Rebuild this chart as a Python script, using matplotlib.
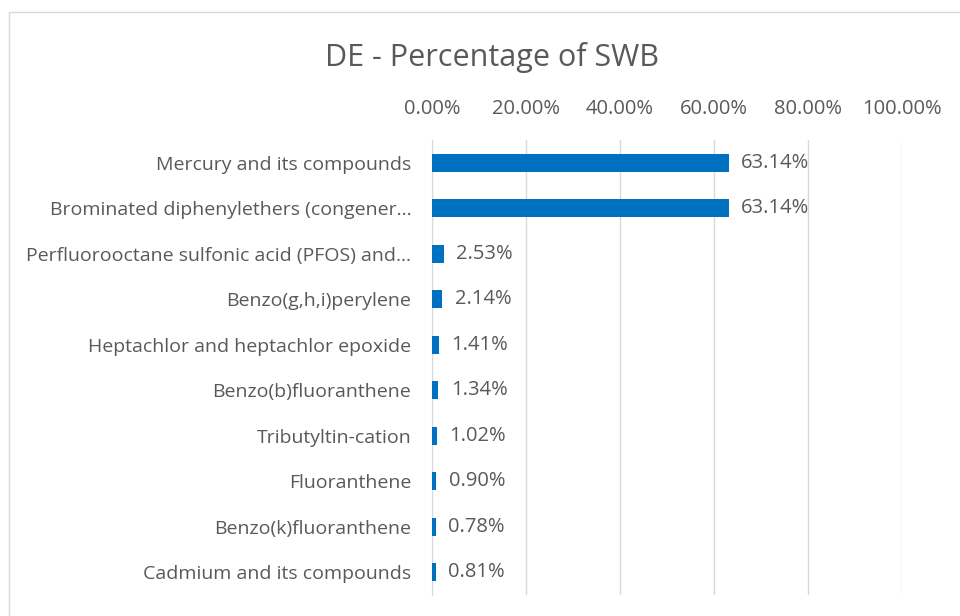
import matplotlib.pyplot as plt
from matplotlib.patches import Rectangle
from matplotlib.ticker import FuncFormatter

substances = [
    "Mercury and its compounds",
    "Brominated diphenylethers (congener\u2026",
    "Perfluorooctane sulfonic acid (PFOS) and\u2026",
    "Benzo(g,h,i)perylene",
    "Heptachlor and heptachlor epoxide",
    "Benzo(b)fluoranthene",
    "Tributyltin-cation",
    "Fluoranthene",
    "Benzo(k)fluoranthene",
    "Cadmium and its compounds",
]
share_pct = [63.14, 63.14, 2.53, 2.14, 1.41, 1.34, 1.02, 0.90, 0.78, 0.81]
x_ticks = [0, 20, 40, 60, 80, 100]

text_color = "#595959"
bar_color = "#0070C0"
grid_color = "#D9D9D9"
font = ["Open Sans", "DejaVu Sans"]

plt.rcParams["font.family"] = font

fig = plt.figure(figsize=(9.6, 6.16), dpi=100)
ax = fig.add_axes([0.45, 0.034, 0.4896, 0.7387])

pos = list(range(len(substances)))
ax.barh(pos, share_pct, height=0.4, color=bar_color, zorder=3)
for y, v in zip(pos, share_pct):
    ax.annotate(f"{v:.2f}%", (v, y), xytext=(9, 0), textcoords="offset points",
                va="center", ha="left", fontsize=14.5, color=text_color)

ax.set_xlim(0, 100)
ax.set_ylim(len(substances) - 0.5, -0.5)
ax.set_yticks(pos)
ax.set_yticklabels(substances)
ax.set_xticks(x_ticks)
ax.xaxis.set_major_formatter(FuncFormatter(lambda x, p: f"{x:.2f}%"))
ax.xaxis.tick_top()
ax.tick_params(axis="x", length=0, pad=15, labelsize=14.5, labelcolor=text_color)
ax.tick_params(axis="y", length=0, pad=15, labelsize=14, labelcolor=text_color)
ax.grid(axis="x", color=grid_color, linewidth=1, zorder=0)
for side in ["top", "right", "bottom"]:
    ax.spines[side].set_visible(False)
ax.spines["left"].set_color(grid_color)

fig.text(0.512, 0.907, "DE - Percentage of SWB", ha="center", va="center",
         fontsize=22, color=text_color)

# chart border, cut off at right and bottom like the screenshot
fig.patches.append(Rectangle((9 / 960, -0.1), 1.2, 1 - 12 / 616 + 0.1,
                             transform=fig.transFigure, fill=False,
                             edgecolor=grid_color, linewidth=1))

fig.savefig("out.png", dpi=100)
